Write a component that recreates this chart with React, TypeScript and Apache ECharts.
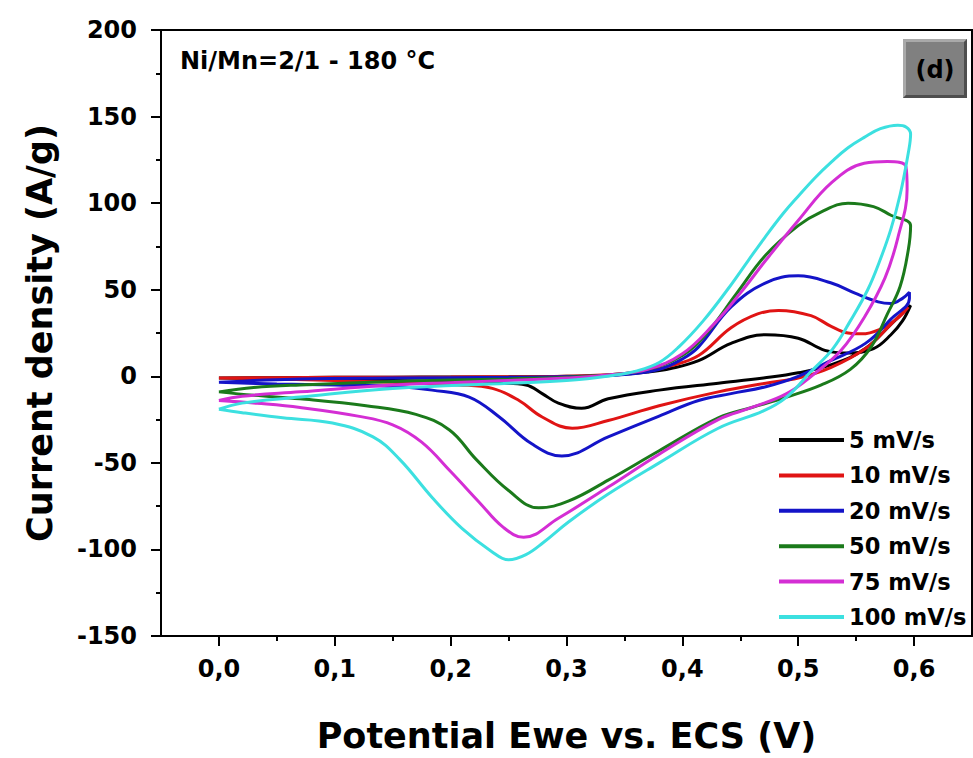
import React, { useEffect, useRef } from "react";
import * as echarts from "echarts";

// ---- data (potential V, current density A/g) ----
const RATES = ["5 mV/s", "10 mV/s", "20 mV/s", "50 mV/s", "75 mV/s", "100 mV/s"];
const COLORS = ["#000000", "#e01414", "#1414c8", "#1b7a1b", "#d42ed4", "#3ce0e0"];

const CV_5 = [
  [0, -1], [0.05, -0.8], [0.1, -0.6], [0.15, -0.5], [0.2, -0.4], [0.25, -0.3], [0.3, 0], [0.34, 0.8], [0.37, 2.5],
  [0.39, 4.5], [0.414, 9], [0.442, 19], [0.472, 24], [0.5, 22], [0.523, 15], [0.543, 13.5], [0.565, 16], [0.58, 24],
  [0.59, 32], [0.597, 41],
  [0.58, 30], [0.558, 16], [0.53, 7], [0.5, 2], [0.47, -1], [0.431, -4], [0.38, -8], [0.336, -13], [0.313, -18.5],
  [0.293, -15.5], [0.279, -10], [0.265, -5], [0.24, -3.8], [0.2, -3], [0.1, -2], [0.05, -1.5], [0, -1],
];
const CV_10 = [
  [0, -1], [0.05, -0.8], [0.1, -0.6], [0.2, -0.4], [0.3, 0], [0.34, 1], [0.37, 3], [0.39, 6], [0.414, 12], [0.442, 28],
  [0.465, 36], [0.483, 38], [0.511, 35], [0.528, 29], [0.543, 25], [0.555, 24.5], [0.57, 27], [0.585, 33], [0.595, 40],
  [0.58, 30], [0.558, 16], [0.528, 5], [0.5, -1], [0.472, -4], [0.431, -9], [0.38, -17], [0.336, -25.5], [0.305, -30],
  [0.279, -23.5], [0.259, -14], [0.236, -7], [0.207, -5], [0.15, -3.5], [0.1, -2.5], [0.05, -1.5], [0, -1],
];
const CV_20 = [
  [0, -3.5], [0.03, -2.5], [0.07, -1.5], [0.15, -1], [0.25, -0.6], [0.32, 0], [0.35, 1], [0.38, 4], [0.4, 10], [0.414, 17],
  [0.442, 40], [0.472, 54], [0.5, 58], [0.528, 54], [0.549, 48], [0.569, 43], [0.58, 42], [0.59, 45], [0.596, 48.5],
  [0.596, 45], [0.58, 33], [0.558, 19], [0.528, 9], [0.5, 0], [0.472, -6], [0.442, -10], [0.414, -14], [0.38, -23],
  [0.336, -35], [0.296, -46], [0.27, -39], [0.242, -23.5], [0.216, -12], [0.184, -8], [0.156, -6], [0.1, -5],
  [0.05, -4.5], [0, -3.5],
];
const CV_50 = [
  [0, -9], [0.03, -6.5], [0.07, -5], [0.15, -3], [0.25, -1.5], [0.3, -0.5], [0.34, 1], [0.37, 4], [0.4, 12], [0.42, 24],
  [0.447, 48], [0.472, 70], [0.5, 87], [0.52, 95], [0.543, 100], [0.565, 98], [0.58, 93], [0.597, 87],
  [0.595, 73], [0.588, 52], [0.577, 36], [0.563, 17], [0.545, 4], [0.52, -5], [0.49, -12], [0.46, -18], [0.431, -24],
  [0.38, -43], [0.336, -60], [0.302, -72], [0.276, -76], [0.25, -66], [0.222, -48], [0.199, -31], [0.17, -22],
  [0.127, -17], [0.07, -13], [0.03, -11], [0, -9],
];
const CV_75 = [
  [0, -14], [0.02, -11.5], [0.07, -9], [0.15, -5], [0.25, -2.5], [0.3, -1], [0.34, 1], [0.37, 4], [0.4, 13], [0.427, 30],
  [0.45, 48], [0.472, 67], [0.5, 90], [0.529, 112], [0.557, 123], [0.577, 124], [0.593, 121],
  [0.594, 108], [0.586, 80], [0.575, 57], [0.557, 34], [0.537, 15], [0.515, 2], [0.49, -10], [0.46, -18], [0.431, -25],
  [0.38, -45], [0.336, -64], [0.293, -82], [0.263, -93], [0.245, -87], [0.225, -73], [0.2, -55], [0.175, -38],
  [0.15, -28], [0.12, -23], [0.07, -18], [0.033, -15.6], [0, -14],
];
const CV_100 = [
  [0, -19], [0.02, -15.5], [0.07, -12], [0.15, -7], [0.25, -4], [0.3, -2.5], [0.34, 0.5], [0.36, 3], [0.38, 8],
  [0.397, 17], [0.418, 32], [0.44, 51], [0.457, 67], [0.471, 80], [0.487, 94], [0.5, 104], [0.515, 115], [0.529, 124],
  [0.543, 132], [0.557, 138], [0.571, 143], [0.586, 145], [0.593, 144], [0.597, 140],
  [0.595, 129], [0.588, 105], [0.58, 85], [0.57, 66], [0.56, 50], [0.545, 32], [0.53, 16], [0.51, 2], [0.49, -12],
  [0.47, -20], [0.431, -30], [0.38, -50], [0.336, -68], [0.302, -84], [0.28, -96], [0.265, -103], [0.25, -106],
  [0.235, -101], [0.21, -88], [0.184, -70], [0.156, -48], [0.133, -35], [0.098, -27], [0.055, -24], [0.02, -21], [0, -19],
];
const CURVES = [CV_5, CV_10, CV_20, CV_50, CV_75, CV_100];

const X_MAJOR = [0, 0.1, 0.2, 0.3, 0.4, 0.5, 0.6];
const X_TITLE = "Potential Ewe vs. ECS (V)";
const Y_TITLE = "Current density (A/g)";
const NOTE = "Ni/Mn=2/1 - 180 °C";
const PANEL = "(d)";

const FONT = "DejaVu Sans";

export default function App() {
  const ref = useRef<HTMLDivElement>(null);
  useEffect(() => {
    if (!ref.current) return;
    const chart = echarts.init(ref.current, null, { renderer: "svg" });
    const fmtX = (v: number) => {
      const r = Math.round(v * 100);
      if (r % 10 !== 0 || r < 0 || r > 60) return "";
      return (r / 100).toFixed(1).replace(".", ",");
    };
    const axisLabelStyle = { fontFamily: FONT, fontWeight: "bold" as const, fontSize: 24, color: "#000" };
    chart.setOption({
      animation: false,
      backgroundColor: "#fff",
      grid: {
        left: 161, top: 30, width: 811, height: 607,
        show: true, borderColor: "#000", borderWidth: 2, backgroundColor: "transparent",
      },
      xAxis: [
        {
          type: "value", min: -0.05, max: 0.65, interval: 0.05, position: "bottom",
          axisLine: { show: true, onZero: false, lineStyle: { color: "#000", width: 2 } },
          axisTick: { show: true, inside: false, length: 5, lineStyle: { color: "#000", width: 2 } },
          axisLabel: { ...axisLabelStyle, margin: 21, formatter: fmtX, showMinLabel: false, showMaxLabel: false },
          splitLine: { show: false },
          name: X_TITLE, nameLocation: "middle", nameGap: 82,
          nameTextStyle: { fontFamily: FONT, fontWeight: "bold", fontSize: 35, color: "#000" },
        },
        {
          type: "value", min: -0.05, max: 0.65, interval: 0.05, position: "bottom",
          axisLine: { show: false, onZero: false },
          axisTick: { show: true, inside: false, length: 10, customValues: X_MAJOR, lineStyle: { color: "#000", width: 2 } },
          axisLabel: { show: false },
          splitLine: { show: false },
        },
      ],
      yAxis: {
        type: "value", min: -150, max: 200, interval: 50,
        axisLine: { show: true, onZero: false, lineStyle: { color: "#000", width: 2 } },
        axisTick: { show: true, inside: false, length: 10, lineStyle: { color: "#000", width: 2 } },
        minorTick: { show: true, splitNumber: 2, length: 5, lineStyle: { color: "#000", width: 2 } },
        axisLabel: { ...axisLabelStyle, margin: 24 },
        splitLine: { show: false },
        name: Y_TITLE, nameLocation: "middle", nameGap: 104,
        nameTextStyle: { fontFamily: FONT, fontWeight: "bold", fontSize: 35, color: "#000" },
      },
      legend: {
        orient: "vertical", left: 779, top: 427, padding: 0, itemGap: 9.4,
        icon: "rect", itemWidth: 65, itemHeight: 4,
        textStyle: { fontFamily: FONT, fontWeight: "bold", fontSize: 22.5, color: "#000", lineHeight: 26 },
        data: RATES,
      },
      series: CURVES.map((d, i) => ({
        name: RATES[i], type: "line", data: d, xAxisIndex: 0,
        showSymbol: false, smooth: 0.4,
        lineStyle: { color: COLORS[i], width: 3 },
        itemStyle: { color: COLORS[i] },
      })),
      graphic: [
        {
          type: "text", left: 180, top: 49,
          style: { text: NOTE, fontFamily: FONT, fontWeight: "bold", fontSize: 24, fill: "#000" },
        },
        {
          type: "group", left: 903, top: 39,
          children: [
            { type: "rect", shape: { x: 0, y: 0, width: 64, height: 59 }, style: { fill: "#808080" } },
            { type: "polygon", shape: { points: [[0, 0], [64, 0], [61, 3], [3, 3], [3, 56], [0, 59]] }, style: { fill: "#a9a9a9" } },
            { type: "polygon", shape: { points: [[64, 0], [64, 59], [0, 59], [3, 56], [61, 56], [61, 3]] }, style: { fill: "#4e4e4e" } },
            {
              type: "text", x: 32, y: 31,
              style: { text: PANEL, fontFamily: FONT, fontWeight: "bold", fontSize: 24, fill: "#000", align: "center", verticalAlign: "middle" },
            },
          ],
        },
      ],
    });
    return () => chart.dispose();
  }, []);
  return <div ref={ref} style={{ width: 973, height: 758, position: "absolute", left: 0, top: 0 }} />;
}
